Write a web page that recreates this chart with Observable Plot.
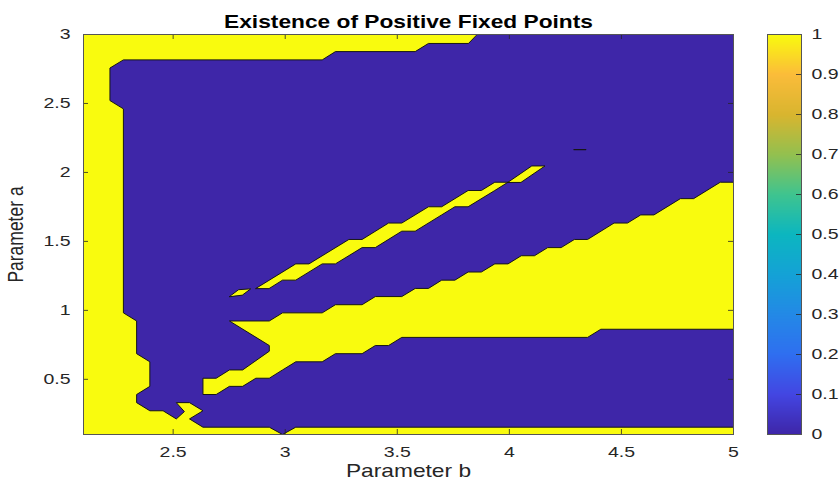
<!DOCTYPE html>
<html><head><meta charset="utf-8">
<script src="https://cdn.jsdelivr.net/npm/d3@7"></script>
<script src="https://cdn.jsdelivr.net/npm/@observablehq/plot@0.6"></script>
<style>
body{margin:0;background:#fff;}
#wrap{position:relative;width:839px;height:481px;overflow:hidden;background:#fff;}
#wrap svg{position:absolute;left:0;top:0;}
</style></head><body><div id="wrap"></div>
<script>
const title = "Existence of Positive Fixed Points";
const xLabel = "Parameter b";
const yLabel = "Parameter a";
const bDomain = [2.1, 5];
const aDomain = [0.1, 3];
const bTicks = [2.5, 3, 3.5, 4, 4.5, 5];
const aTicks = [0.5, 1, 1.5, 2, 2.5, 3];
const colorTicks = [0, 0.1, 0.2, 0.3, 0.4, 0.5, 0.6, 0.7, 0.8, 0.9, 1];
const parulaStops = [0, 0.1, 0.2, 0.3, 0.4, 0.5, 0.6, 0.7, 0.8, 0.9, 1];
const parulaColors = ["#3e26a8", "#4346e2", "#2f6ff0", "#2389e6", "#14a2d6", "#0cb6c0", "#3fc48f", "#93c04f", "#d9b52f", "#fbbc3a", "#f9fb0e"];

// region where value = 0 (no positive fixed point), outline
const zeroRegionB = [3.858,5.0,5.0,4.941,4.822,4.763,4.645,4.586,4.527,4.467,4.349,4.290,4.231,4.171,4.112,4.053,3.994,3.935,3.875,3.816,3.757,3.698,3.639,3.580,3.520,3.402,3.343,3.224,3.165,2.988,2.929,2.751,2.929,2.929,2.810,2.751,2.692,2.633,2.633,2.692,2.751,2.810,2.869,2.929,2.988,3.047,3.165,3.224,3.343,3.402,3.461,3.520,4.349,4.408,5.0,5.0,3.047,2.988,2.929,2.633,2.573,2.633,2.573,2.514,2.550,2.514,2.455,2.396,2.337,2.337,2.396,2.396,2.337,2.337,2.278,2.278,2.218,2.218,2.278,3.165,3.224,3.580,3.639,3.816];
const zeroRegionA = [3.0,3.0,1.929,1.929,1.810,1.810,1.692,1.692,1.633,1.633,1.514,1.514,1.455,1.455,1.396,1.396,1.337,1.337,1.278,1.278,1.219,1.219,1.159,1.159,1.100,1.100,1.041,1.041,0.982,0.982,0.923,0.923,0.745,0.704,0.568,0.568,0.508,0.508,0.390,0.390,0.449,0.449,0.508,0.508,0.568,0.627,0.627,0.686,0.686,0.745,0.745,0.804,0.804,0.863,0.863,0.153,0.153,0.1,0.153,0.153,0.213,0.272,0.331,0.331,0.266,0.213,0.272,0.272,0.331,0.390,0.449,0.627,0.686,0.923,0.982,2.461,2.521,2.757,2.816,2.816,2.876,2.876,2.935,2.935];

// islands where value = 1 inside the zero region
const stripeB = [2.869,3.047,3.106,3.284,3.343,3.461,3.520,3.639,3.698,3.816,3.875,3.935,3.994,3.935,3.816,3.757,3.698,3.580,3.520,3.402,3.343,3.224,3.165,3.047,2.988,2.929];
const stripeA = [1.159,1.337,1.337,1.514,1.514,1.633,1.633,1.751,1.751,1.869,1.869,1.929,1.929,1.869,1.751,1.751,1.692,1.574,1.574,1.455,1.455,1.337,1.337,1.219,1.219,1.159];
const islandLeftB = [2.751,2.792,2.846,2.810];
const islandLeftA = [1.100,1.150,1.156,1.112];
const islandRightB = [3.994,4.100,4.159,4.053];
const islandRightA = [1.929,2.047,2.047,1.929];
const dashB = [4.288, 4.341];
const dashA = [2.166, 2.166];

const YELLOW = "#f9fb0e", BLUE = "#3e26a8", EDGE = "#161616", AXIS = "#262626";
const pts = (B, A) => B.map((b, i) => ({b, a: A[i]}));
const poly = (B, A, fill) => Plot.line(pts(B, A), {x: "b", y: "a", fill, stroke: EDGE, strokeWidth: 1, curve: "linear-closed", clip: true, strokeLinejoin: "miter"});
const font = "Liberation Sans, Arial, Helvetica, sans-serif";
const fmt = d => String(d);

const main = Plot.plot({
  width: 839, height: 481,
  marginLeft: 83, marginRight: 106, marginTop: 34, marginBottom: 47,
  x: {domain: bDomain},
  y: {domain: aDomain},
  style: {fontFamily: font, color: AXIS, background: "transparent"},
  marks: [
    Plot.frame({fill: YELLOW, stroke: null}),
    poly(zeroRegionB, zeroRegionA, BLUE),
    poly(stripeB, stripeA, YELLOW),
    poly(islandLeftB, islandLeftA, YELLOW),
    poly(islandRightB, islandRightA, YELLOW),
    Plot.line(pts(dashB, dashA), {x: "b", y: "a", stroke: EDGE, strokeWidth: 1.2}),
    Plot.tickX(bTicks, {x: d => d, insetTop: 395, stroke: AXIS, strokeWidth: 0.8}),
    Plot.tickX(bTicks, {x: d => d, insetBottom: 395, stroke: AXIS, strokeWidth: 0.8}),
    Plot.tickY(aTicks, {y: d => d, insetRight: 645, stroke: AXIS, strokeWidth: 0.8}),
    Plot.tickY(aTicks, {y: d => d, insetLeft: 645, stroke: AXIS, strokeWidth: 0.8}),
    Plot.frame({stroke: "#555", strokeWidth: 1}),
    Plot.axisX(bTicks, {tickSize: 0, tickPadding: 12, fontSize: 15, label: null, fill: AXIS, tickFormat: fmt}),
    Plot.axisY(aTicks, {tickSize: 0, tickPadding: 13, fontSize: 15, label: null, fill: AXIS, tickFormat: fmt}),
    Plot.text([xLabel], {frameAnchor: "bottom", dy: 42, fontSize: 17.5, fill: AXIS, textAnchor: "middle"}),
    Plot.text([yLabel], {frameAnchor: "left", dx: -68, rotate: -90, fontSize: 17.5, fill: AXIS, textAnchor: "middle"}),
    Plot.text([title], {frameAnchor: "top", dy: -19, fontSize: 17.5, fontWeight: "bold", fill: "#000", textAnchor: "middle"})
  ]
});

const cbar = Plot.plot({
  width: 839, height: 481,
  marginLeft: 767, marginRight: 38, marginTop: 34, marginBottom: 47,
  x: {domain: [0, 1], axis: null},
  y: {domain: [0, 1]},
  color: {type: "linear", domain: parulaStops, range: parulaColors},
  style: {fontFamily: font, color: AXIS, background: "transparent"},
  marks: [
    Plot.raster({x1: 0, x2: 1, y1: 0, y2: 1, width: 1, height: 400, fill: (x, y) => y, imageRendering: "auto"}),
    Plot.tickY(colorTicks, {y: d => d, insetLeft: 29, stroke: AXIS, strokeWidth: 0.8}),
    Plot.frame({stroke: "#555", strokeWidth: 1}),
    Plot.axisY(colorTicks, {anchor: "right", tickSize: 0, tickPadding: 10, fontSize: 15, label: null, fill: AXIS, tickFormat: fmt})
  ]
});

const wrap = document.getElementById("wrap");
wrap.appendChild(main);
wrap.appendChild(cbar);

// horizontal stretch of the text (the original figure is stretched wide)
const S = 1.3;
for (const svg of [main, cbar]) {
  svg.querySelectorAll("text").forEach(t => {
    const T = t.getAttribute("transform") || "";
    if (T.includes("rotate")) {
      t.setAttribute("transform", T.replace("rotate", `scale(${S},1) rotate`));
    } else {
      const x = parseFloat(t.getAttribute("x")) || 0;
      t.setAttribute("transform", `${T} translate(${x},0) scale(${S},1) translate(${-x},0)`);
    }
  });
}
</script>
</body></html>
